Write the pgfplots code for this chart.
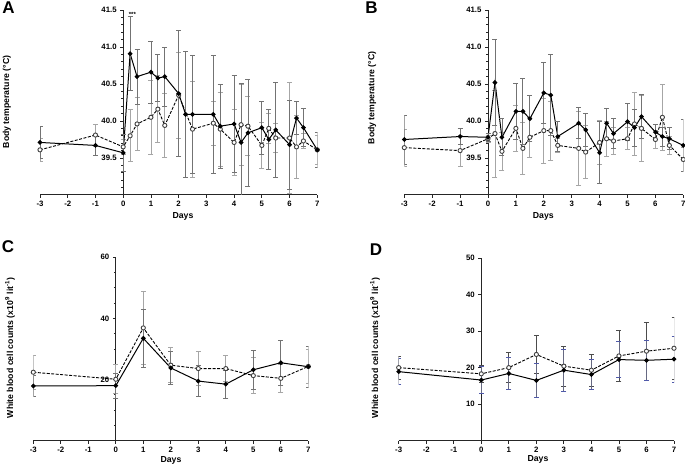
\documentclass[border=0pt]{standalone}
\usepackage{fontspec}
\setmainfont{Liberation Sans}
\usepackage{pgfplots}
\pgfplotsset{compat=1.18}
\usepackage{pgfplotstable}

\pgfplotstableread{
x y e
-3 39.71 0.22
-1 39.67 0.13
0 39.57 0.25
0.25 40.91 0.50
0.5 40.60 0.37
1 40.66 0.42
1.25 40.58 0.32
1.5 40.60 0.40
2 40.37 0.85
2.25 40.09 0.85
2.5 40.09 0.80
3.25 40.09 0.80
3.5 39.93 0.57
4 39.96 0.66
4.25 39.71 0.80
4.5 39.84 0.72
5 39.91 0.36
5.25 39.75 0.40
5.5 39.88 0.64
6 39.68 0.60
6.25 40.04 0.22
6.5 39.91 0.26
7 39.61 0.24
}\Asolid
\pgfplotstableread{
x y e
-3 39.61 0.15
-1 39.81 0.15
0 39.65 0.10
0.25 39.80 0.35
0.5 39.96 0.36
1 40.05 0.50
1.25 40.16 0.45
1.5 39.94 0.43
2 40.35 0.58
2.5 39.89 0.65
3.25 39.97 0.30
3.5 39.89 0.50
4 39.71 0.44
4.25 39.95 0.55
4.5 39.93 0.40
5 39.67 0.31
5.25 39.90 0.20
5.5 39.77 0.20
6 39.77 0.75
6.25 39.65 0.43
6.5 39.73 0.10
7 39.61 0.20
}\Aopen
\pgfplotstableread{
x y e
-3 39.75 0.33
-1 39.79 0.11
0 39.78 0.05
0.25 40.52 0.58
0.5 39.78 0.25
1 40.13 0.38
1.25 40.13 0.44
1.5 40.03 0.31
2 40.38 0.41
2.25 40.35 0.55
2.5 39.79 0.20
3.25 39.97 0.21
3.5 39.88 0.22
4 39.57 0.42
4.25 39.97 0.20
4.5 39.83 0.20
5 39.99 0.25
5.25 39.91 0.25
5.5 40.06 0.30
6 39.85 0.10
6.25 39.79 0.13
6.5 39.76 0.15
7 39.67 0.35
}\Bsolid
\pgfplotstableread{
x y e
-3 39.64 0.25
-1 39.60 0.21
0 39.76 0.05
0.25 39.83 0.59
0.5 39.59 0.26
1 39.90 0.31
1.25 39.63 0.35
1.5 39.78 0.27
2 39.87 0.44
2.25 39.87 0.40
2.5 39.67 0.10
3.25 39.63 0.50
3.5 39.58 0.36
4 39.71 0.30
4.25 39.76 0.24
4.5 39.73 0.18
5 39.76 0.15
5.25 39.96 0.42
5.5 39.90 0.44
6 39.75 0.12
6.25 40.05 0.45
6.5 39.67 0.12
7 39.48 0.16
}\Bopen
\pgfplotstableread{
x y e
-3 17.9 3.3
0 18.0 4.0
1 33.5 9.5
2 23.8 5.4
3 19.5 5.1
4 18.5 4.6
5 23.2 6.5
6 25.5 7.4
7 24.2 6.8
}\Csolid
\pgfplotstableread{
x y e
-3 22.4 5.6
0 20.1 4.7
1 36.9 11.8
2 24.7 5.7
3 23.6 5.5
4 23.6 4.2
5 21.3 5.9
6 20.4 4.7
7 24.3 5.5
}\Copen
\pgfplotstableread{
x y e
-3 18.9 3.5
0 16.6 3.6
1 18.4 4.3
2 16.5 4.7
3 19.3 5.8
4 18.1 4.1
5 22.2 5.0
6 22.0 5.5
7 22.3 6.3
}\Dsolid
\pgfplotstableread{
x y e
-3 20.0 3.2
0 18.3 2.3
1 20.0 4.1
2 23.6 5.1
3 20.4 5.5
4 19.3 4.4
5 23.2 7.1
6 24.5 7.9
7 25.3 8.5
}\Dopen

\definecolor{barblue}{RGB}{80,90,170}

\pgfplotsset{
  panel/.style={
    scale only axis,
    anchor=south west,
    xmin=-3, xmax=7,
    axis x line=bottom,
    axis y line=left,
    axis y line shift=-#1,
    axis line style={-, line width=1pt, black!85},
    xtick={-3,...,7},
    tick align=outside,
    major tick length=3pt, minor tick length=2pt,
    tick style={line width=0.8pt, black!85},
    ticklabel style={font=\fontsize{7.8}{8}\selectfont\bfseries},
    /pgf/number format/assume math mode=true,
  },
  solidser/.style n args={2}{black, line width=1pt, mark=*, mark size=1.8pt,
    mark options={solid, fill=black},
    error bars/y dir=both, error bars/y explicit,
    error bars/error bar style={line width=0.8pt, solid, #1},
    error bars/error mark options={rotate=90, mark size=2.5pt, line width=0.8pt, solid, #2}},
  openser/.style={black, line width=0.9pt, dash pattern=on 3pt off 1.5pt, mark=*, mark size=2.1pt,
    mark options={solid, fill=white, draw=black!75},
    error bars/y dir=both, error bars/y explicit,
    error bars/error bar style={line width=0.8pt, solid, #1},
    error bars/error mark options={rotate=90, mark size=2.5pt, line width=0.8pt, solid, #1}},
}

\newcommand{\lab}{\fontsize{8.7}{10}\selectfont\bfseries}

\begin{document}
\begin{tikzpicture}
\useasboundingbox (0pt,0pt) rectangle (685pt,468pt);

% Panel A
\begin{axis}[panel=83.2pt, at={(40pt,273pt)}, width=277.3pt, height=185pt,
  ymin=39, ymax=41.5, ytick={39.5,40,40.5,41,41.5},
  minor ytick={39.1,39.2,39.3,39.4,39.6,39.7,39.8,39.9,40.1,40.2,40.3,40.4,40.6,40.7,40.8,40.9,41.1,41.2,41.3,41.4},
  yticklabel style={/pgf/number format/.cd, fixed, fixed zerofill, precision=1}]
\addplot+[openser=black!35] table[x=x, y=y, y error=e] {\Aopen};
\addplot+[solidser={black!55}{black!55}] table[x=x, y=y, y error=e] {\Asolid};
\node[font=\fontsize{6}{6}\selectfont\bfseries] at (axis cs:0.33,41.44) {***};
\end{axis}

% Panel B
\begin{axis}[panel=83.7pt, at={(404.3pt,273pt)}, width=279pt, height=185pt,
  ymin=39, ymax=41.5, ytick={39.5,40,40.5,41,41.5},
  minor ytick={39.1,39.2,39.3,39.4,39.6,39.7,39.8,39.9,40.1,40.2,40.3,40.4,40.6,40.7,40.8,40.9,41.1,41.2,41.3,41.4},
  yticklabel style={/pgf/number format/.cd, fixed, fixed zerofill, precision=1}]
\addplot+[openser=black!35] table[x=x, y=y, y error=e] {\Bopen};
\addplot+[solidser={black!55}{black!55}] table[x=x, y=y, y error=e] {\Bsolid};
\end{axis}

% Panel C
\begin{axis}[panel=82.5pt, at={(33.3pt,27.3pt)}, width=275pt, height=183.4pt,
  ymin=0, ymax=60, ytick={20,40,60},
  minor ytick={0,5,10,15,25,30,35,45,50,55}]
\addplot+[openser=black!35] table[x=x, y=y, y error=e] {\Copen};
\addplot+[solidser={black!55}{black!55}] table[x=x, y=y, y error=e] {\Csolid};
\end{axis}

% Panel D
\begin{axis}[panel=82.6pt, at={(398.7pt,27.3pt)}, width=275.3pt, height=182.7pt,
  ymin=0, ymax=50, ytick={10,20,30,40,50}]
\addplot+[openser=black!70] table[x=x, y=y, y error=e] {\Dopen};
\addplot+[solidser={barblue!45!black!70}{barblue}] table[x=x, y=y, y error=e] {\Dsolid};
\end{axis}

% Panel letters
\node[font=\fontsize{17}{17}\selectfont\bfseries] at (8.5pt,460.5pt) {A};
\node[font=\fontsize{17}{17}\selectfont\bfseries] at (371.5pt,460.5pt) {B};
\node[font=\fontsize{17}{17}\selectfont\bfseries] at (8pt,221.5pt) {C};
\node[font=\fontsize{17}{17}\selectfont\bfseries] at (376pt,218pt) {D};

% Axis labels
\node[font=\lab] at (183pt,252pt) {Days};
\node[font=\lab] at (543.3pt,252pt) {Days};
\node[font=\lab] at (171pt,7.5pt) {Days};
\node[font=\lab] at (538pt,8.7pt) {Days};
\node[font=\lab, rotate=90] at (7pt,366pt) {Body temperature (°C)};
\node[font=\lab, rotate=90] at (372pt,370pt) {Body temperature (°C)};
\node[font=\lab, rotate=90] at (10pt,120pt) {White blood cell counts (x10\textsuperscript{9} lit\textsuperscript{-1})};
\node[font=\lab, rotate=90] at (375pt,120pt) {White blood cell counts (x10\textsuperscript{9} lit\textsuperscript{-1})};
\end{tikzpicture}
\end{document}
